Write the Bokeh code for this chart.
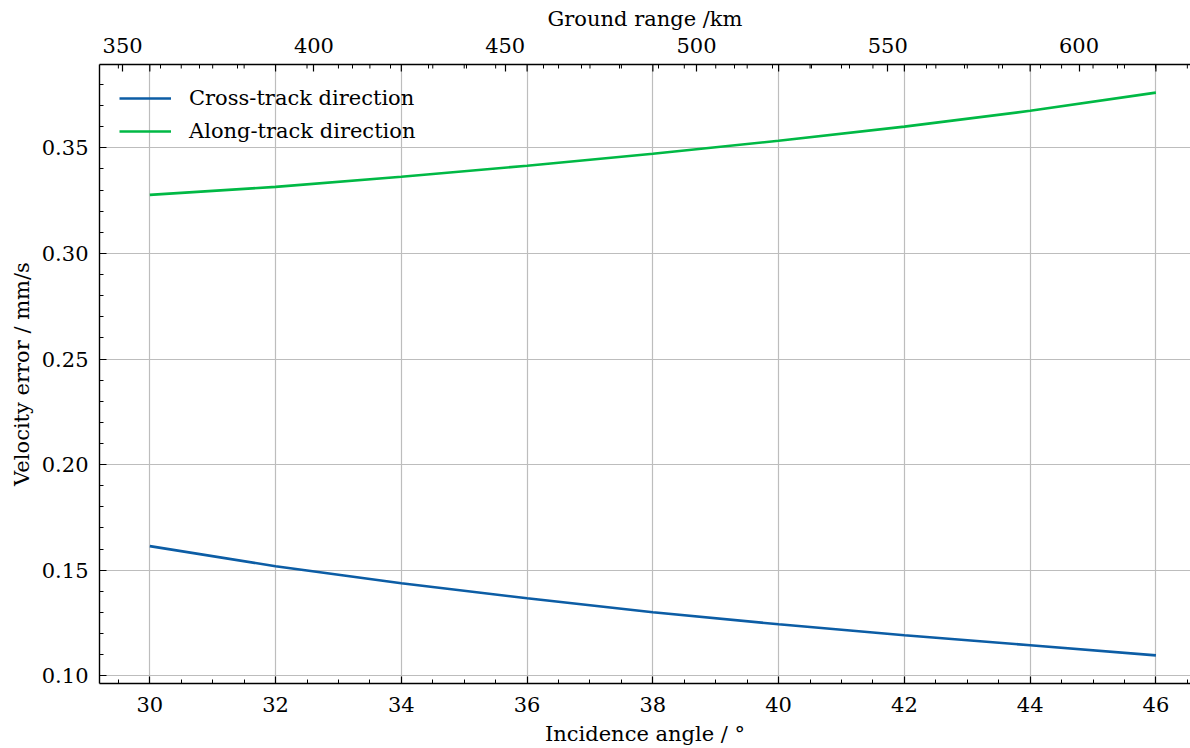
import numpy as np
from bokeh.plotting import figure
from bokeh.models import (LinearAxis, Range1d, SingleIntervalTicker, PrintfTickFormatter,
                          Legend, LegendItem)
from bokeh.embed import file_html
from bokeh.resources import INLINE

# ---- data ----
incidence_deg = [30, 32, 34, 36, 38, 40, 42, 44, 46]
cross_track = [0.1614, 0.1519, 0.1438, 0.1367, 0.1301, 0.1244, 0.1192, 0.1145, 0.1097]
along_track = [0.3277, 0.3315, 0.3363, 0.3415, 0.3472, 0.3533, 0.3600, 0.3675, 0.3761]
series_names = ["Cross-track direction", "Along-track direction"]
# ground range (km) at the first and last incidence angle (top twin axis, linear)
ground_range_at_ends = [357.1, 620.1]

x_label = "Incidence angle / \u00b0"
y_label = "Velocity error / mm/s"
top_label = "Ground range /km"

FONT = "DejaVu Serif"
FS = "21px"
BLUE = "#0C5DA5"
GREEN = "#00B945"

# ranges (matplotlib-like 5% margins; right side cropped as in reference)
x0 = 29.2
x1 = 46.55
y_all = cross_track + along_track
ypad = 0.05 * (max(y_all) - min(y_all))
y0, y1 = min(y_all) - ypad, max(y_all) + ypad

slope = (ground_range_at_ends[1] - ground_range_at_ends[0]) / (incidence_deg[-1] - incidence_deg[0])
g0 = ground_range_at_ends[0] + (x0 - incidence_deg[0]) * slope
g1 = ground_range_at_ends[0] + (x1 - incidence_deg[0]) * slope

p = figure(width=1190, height=748, output_backend="svg", toolbar_location=None,
           x_range=Range1d(x0, x1), y_range=Range1d(y0, y1),
           min_border_left=99, min_border_right=0, min_border_top=64, min_border_bottom=64,
           background_fill_color="white", border_fill_color="white")
p.outline_line_color = None
p.extra_x_ranges = {"gr": Range1d(g0, g1)}

xax = p.xaxis[0]
yax = p.yaxis[0]
xax.ticker = SingleIntervalTicker(interval=2, num_minor_ticks=4)
yax.ticker = SingleIntervalTicker(interval=0.05, num_minor_ticks=5)
yax.formatter = PrintfTickFormatter(format="%.2f")

top = LinearAxis(x_range_name="gr", ticker=SingleIntervalTicker(interval=50, num_minor_ticks=5))
p.add_layout(top, "above")

for ax in (xax, yax, top):
    ax.axis_line_color = "black"
    ax.axis_line_width = 1.4
    ax.major_tick_in = 7
    ax.major_tick_out = 0
    ax.minor_tick_in = 4
    ax.minor_tick_out = 0
    ax.major_tick_line_color = "black"
    ax.minor_tick_line_color = "black"
    ax.major_tick_line_width = 1.2
    ax.minor_tick_line_width = 1.0
    ax.major_label_text_font = FONT
    ax.major_label_text_font_size = FS
    ax.major_label_text_color = "black"
    ax.axis_label_text_font = FONT
    ax.axis_label_text_font_size = FS
    ax.axis_label_text_font_style = "normal"
    ax.axis_label_text_color = "black"

xax.axis_label = x_label
yax.axis_label = y_label
top.axis_label = top_label
xax.major_label_standoff = 13
xax.axis_label_standoff = 7
yax.major_label_standoff = 11
yax.axis_label_standoff = 5
top.major_label_standoff = 12
top.axis_label_standoff = 4

for g in (p.xgrid[0], p.ygrid[0]):
    g.grid_line_color = "#bdbdbd"
    g.grid_line_width = 1.2

# mirrored incidence-angle ticks on the top edge (matplotlib "ticks on all sides")
maj = np.arange(incidence_deg[0], incidence_deg[-1] + 0.01, 2.0)
mnr = np.array([v for v in np.arange(29.5, x1, 0.5) if v % 2 != 0])
p.ray(x=maj, y=[y1] * len(maj), length=7, angle=-np.pi / 2, length_units="screen",
      line_color="black", line_width=1.2)
p.ray(x=mnr, y=[y1] * len(mnr), length=4, angle=-np.pi / 2, length_units="screen",
      line_color="black", line_width=1.0)

r1 = p.line(incidence_deg, cross_track, line_color=BLUE, line_width=2.6)
r2 = p.line(incidence_deg, along_track, line_color=GREEN, line_width=2.6)

legend = Legend(items=[LegendItem(label=series_names[0], renderers=[r1]),
                       LegendItem(label=series_names[1], renderers=[r2])],
                location="top_left")
legend.border_line_color = None
legend.background_fill_alpha = 0
legend.label_text_font = FONT
legend.label_text_font_size = FS
legend.label_text_color = "black"
legend.glyph_width = 52
legend.glyph_height = 28
legend.label_height = 28
legend.label_standoff = 18
legend.spacing = 5
legend.margin = 20
legend.padding = 10
p.add_layout(legend)

open("out.html", "w").write(file_html(p, INLINE))
